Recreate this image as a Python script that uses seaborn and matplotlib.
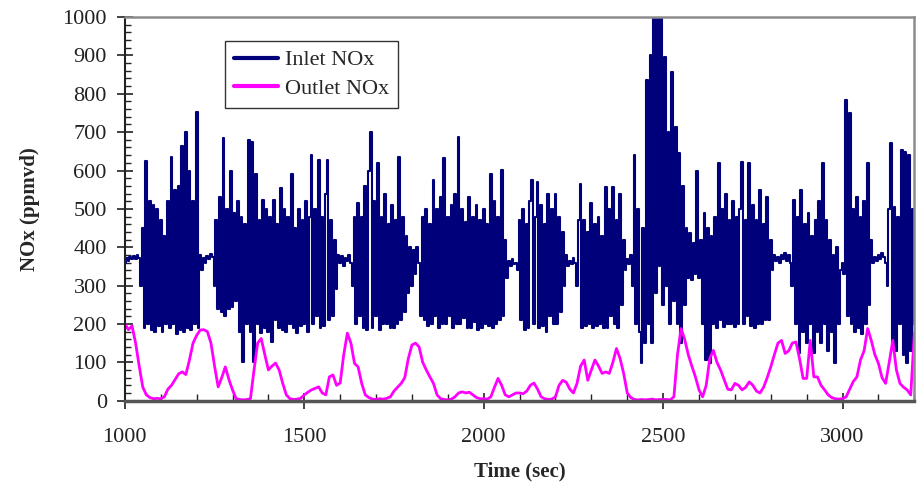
import numpy as np
import pandas as pd
import matplotlib
matplotlib.use("Agg")
import matplotlib.pyplot as plt
from matplotlib.ticker import MultipleLocator
import seaborn as sns

# Sampling of the two records (seconds)
t_start, t_end = 1000, 3200
inlet_step = 5
outlet_step = 10

# Inlet NOx (ppmvd), one value every 5 s, one row per 100 s
inlet_nox = [
    360, 372, 365, 375, 368, 378, 370, 380, 372, 300, 450, 190, 625, 200, 520, 185, 510, 180, 500, 195,  # 1000
    470, 180, 430, 200, 520, 190, 635, 200, 550, 175, 560, 185, 665, 180, 700, 190, 600, 185, 520, 200,  # 1100
    753, 190, 380, 340, 372, 360, 378, 370, 382, 375, 300, 470, 240, 530, 230, 684, 220, 500, 240, 600,  # 1200
    245, 488, 260, 520, 180, 480, 100, 460, 200, 679, 180, 675, 100, 592, 200, 470, 176, 522, 190, 500,  # 1300
    180, 480, 153, 522, 210, 460, 190, 555, 185, 500, 180, 480, 200, 590, 190, 450, 176, 500, 195, 470,  # 1400
    200, 520, 180, 480, 640, 200, 500, 220, 627, 190, 480, 195, 540, 627, 210, 470, 220, 420, 290, 380,  # 1500
    360, 378, 350, 372, 365, 380, 360, 300, 480, 200, 515, 220, 480, 190, 560, 184, 600, 700, 190, 520,  # 1600
    220, 619, 184, 480, 200, 540, 200, 460, 190, 510, 190, 470, 200, 635, 210, 480, 230, 430, 280, 400,  # 1700
    300, 392, 330, 400, 360, 220, 480, 210, 500, 195, 460, 200, 575, 220, 500, 190, 530, 200, 632, 200,  # 1800
    480, 220, 510, 190, 540, 200, 688, 200, 500, 215, 465, 190, 530, 190, 480, 205, 510, 184, 470, 190,  # 1900
    500, 200, 460, 195, 592, 190, 520, 200, 480, 210, 601, 220, 420, 320, 365, 350, 370, 355, 360, 340,  # 2000
    470, 210, 500, 184, 460, 190, 520, 575, 200, 480, 570, 190, 510, 195, 460, 180, 540, 220, 500, 200,  # 2100
    540, 200, 480, 230, 440, 300, 380, 350, 365, 355, 372, 360, 300, 470, 566, 190, 470, 195, 440, 200,  # 2200
    515, 190, 460, 195, 480, 200, 430, 190, 557, 190, 500, 220, 557, 200, 470, 190, 540, 250, 420, 340,  # 2300
    370, 355, 380, 300, 640, 200, 500, 180, 97, 450, 150, 836, 200, 900, 150, 1000, 280, 1000, 350, 1000,  # 2400
    250, 896, 300, 700, 200, 857, 260, 714, 200, 645, 150, 560, 250, 450, 320, 436, 314, 410, 330, 600,  # 2500
    320, 420, 200, 488, 106, 450, 97, 430, 200, 480, 190, 619, 210, 500, 193, 540, 200, 470, 200, 520,  # 2600
    193, 480, 200, 500, 622, 200, 470, 220, 619, 195, 510, 190, 470, 200, 549, 200, 460, 210, 531, 210,  # 2700
    420, 340, 380, 365, 375, 360, 380, 370, 385, 365, 380, 360, 300, 522, 200, 480, 123, 549, 180, 460,  # 2800
    150, 488, 200, 430, 123, 470, 180, 520, 150, 619, 200, 470, 130, 420, 180, 380, 97, 400, 200, 340,  # 2900
    360, 330, 783, 220, 749, 200, 500, 180, 530, 190, 480, 175, 520, 200, 619, 250, 420, 360, 375, 365,  # 3000
    380, 370, 385, 375, 360, 300, 500, 671, 150, 505, 130, 480, 200, 653, 120, 649, 97, 640, 130, 500,  # 3100
    200,  # 3200
]

# Outlet NOx (ppmvd), one value every 10 s, one row per 100 s
outlet_nox = [
    200, 185, 195, 150, 90, 35, 15, 8, 5, 6,  # 1000
    5, 10, 30, 40, 55, 70, 75, 68, 106, 150,  # 1100
    170, 184, 185, 180, 150, 90, 36, 60, 88, 55,  # 1200
    28, 5, 3, 2, 3, 5, 80, 150, 162, 120,  # 1300
    80, 90, 98, 80, 45, 15, 5, 3, 4, 6,  # 1400
    15, 22, 28, 32, 36, 20, 15, 62, 67, 40,  # 1500
    46, 120, 176, 150, 97, 88, 45, 15, 8, 4,  # 1600
    3, 5, 4, 6, 10, 25, 35, 45, 60, 110,  # 1700
    145, 150, 140, 100, 80, 62, 45, 15, 5, 3,  # 1800
    2, 4, 10, 20, 23, 20, 22, 15, 8, 5,  # 1900
    5, 4, 10, 35, 58, 40, 15, 10, 15, 20,  # 2000
    20, 18, 25, 40, 46, 30, 10, 5, 3, 4,  # 2100
    10, 40, 53, 48, 30, 20, 45, 90, 106, 53,  # 2200
    80, 106, 90, 71, 75, 71, 100, 136, 110, 71,  # 2300
    20, 8, 3, 2, 3, 2, 3, 4, 2, 3,  # 2400
    3, 3, 2, 10, 120, 188, 160, 120, 90, 62,  # 2500
    28, 10, 40, 110, 131, 100, 80, 55, 30, 28,  # 2600
    45, 40, 28, 35, 49, 40, 25, 20, 35, 60,  # 2700
    88, 120, 150, 157, 123, 130, 150, 153, 110, 58,  # 2800
    58, 157, 62, 62, 40, 28, 15, 8, 5, 4,  # 2900
    5, 10, 30, 50, 62, 106, 130, 188, 157, 120,  # 3000
    97, 60, 45, 100, 157, 80, 45, 35, 28, 15,  # 3100
    176,  # 3200
]

inlet_df = pd.DataFrame({
    "time": np.arange(t_start, t_end + 1, inlet_step),
    "nox": inlet_nox,
})
outlet_df = pd.DataFrame({
    "time": np.arange(t_start, t_end + 1, outlet_step),
    "nox": outlet_nox,
})

sns.set_theme(style="ticks")
plt.rcParams["font.family"] = ["Liberation Serif", "DejaVu Serif"]

fig, ax = plt.subplots(figsize=(9.18, 4.88), dpi=100)
fig.subplots_adjust(left=0.136, right=0.996, bottom=0.179, top=0.965)

# recorder trace: hold each reading for its sample interval
sns.lineplot(data=inlet_df, x="time", y="nox", color="#00007a", lw=1.5,
             drawstyle="steps-mid", estimator=None, sort=False,
             label="Inlet NOx", ax=ax)
sns.lineplot(data=outlet_df, x="time", y="nox", color="#ff00ff", lw=2.0,
             estimator=None, sort=False, label="Outlet NOx", ax=ax)

ax.set_xlim(t_start, t_end)
ax.set_ylim(0, 1000)
ax.xaxis.set_major_locator(MultipleLocator(500))
ax.xaxis.set_minor_locator(MultipleLocator(100))
ax.yaxis.set_major_locator(MultipleLocator(100))
ax.yaxis.set_minor_locator(MultipleLocator(20))

ax.tick_params(axis="both", which="major", labelsize=16, labelcolor="#222222", color="#222222")
ax.tick_params(axis="y", which="major", direction="inout", length=12, width=1.2, pad=7)
ax.tick_params(axis="y", which="minor", direction="in", length=4, width=1.0, color="#222222")
ax.tick_params(axis="x", which="major", direction="inout", length=12, width=1.2, pad=14)
ax.tick_params(axis="x", which="minor", direction="in", length=5, width=1.0, color="#222222")

for side in ["top", "right"]:
    ax.spines[side].set_color("#8c8c8c")
    ax.spines[side].set_linewidth(1.8)
ax.spines["left"].set_color("#222222")
ax.spines["left"].set_linewidth(1.5)
ax.spines["bottom"].set_color("#555555")
ax.spines["bottom"].set_linewidth(2.5)

ax.set_xlabel("Time (sec)", fontsize=15, fontweight="bold", labelpad=10)
ax.set_ylabel("NOx (ppmvd)", fontsize=15, fontweight="bold", labelpad=16)

leg = ax.legend(loc="upper left", bbox_to_anchor=(0.127, 0.938), borderaxespad=0,
                fontsize=16, frameon=True, fancybox=False, edgecolor="black",
                handlelength=2.0, handletextpad=0.3, borderpad=0.4, labelspacing=0.35)
leg.get_frame().set_linewidth(1.0)
for line in leg.get_lines():
    line.set_linewidth(3.0)

fig.savefig("out.png", dpi=100)
